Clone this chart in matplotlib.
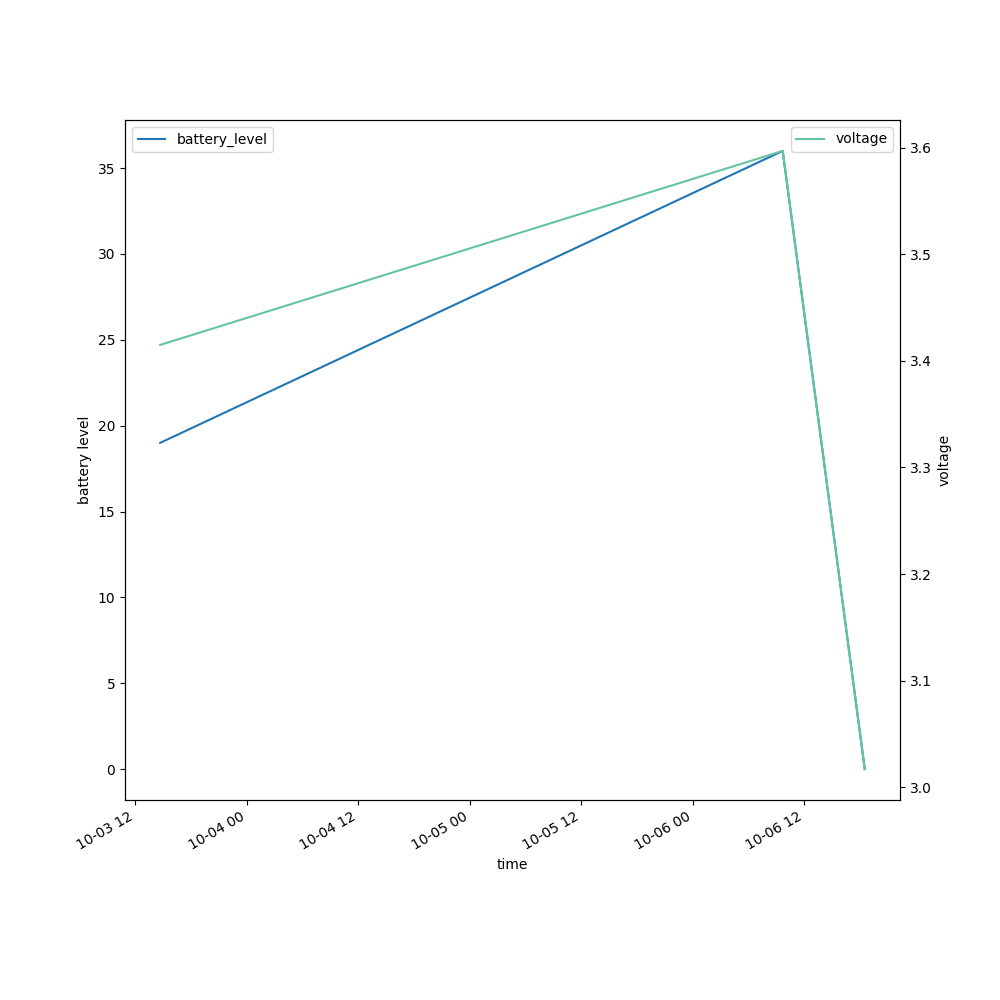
import matplotlib
matplotlib.use("Agg")
import matplotlib.pyplot as plt
import pandas as pd

# readings
times = pd.to_datetime(["2023-10-03 14:40", "2023-10-06 09:40", "2023-10-06 18:30"])
battery_level = [19, 36, 0]
voltage = [3.415, 3.597, 3.017]

fig, ax = plt.subplots(figsize=(10, 10), dpi=100)
ax.plot(times, battery_level, color="#1f77b4", label="battery_level")
ax.set_xlabel("time")
ax.set_ylabel("battery level")
ax.legend(loc="upper left")

ax2 = ax.twinx()
ax2.plot(times, voltage, color="#66c2a5", label="voltage")
ax2.set_ylabel("voltage")
ax2.legend(loc="upper right")

fig.autofmt_xdate()
fig.savefig("out.png")
